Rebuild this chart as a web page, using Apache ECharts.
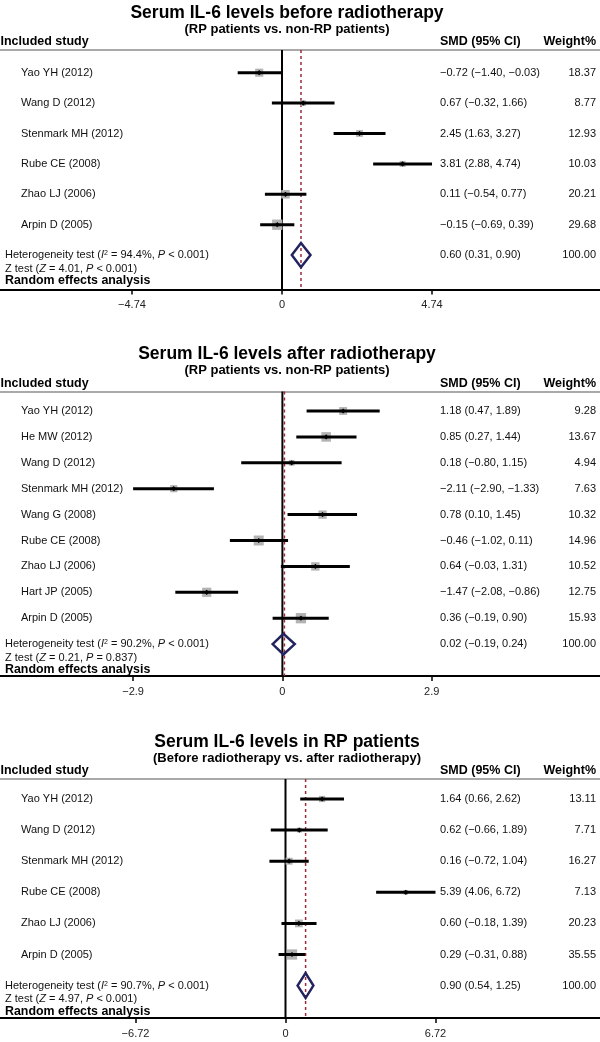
<!DOCTYPE html>
<html><head><meta charset="utf-8">
<script src="https://cdn.jsdelivr.net/npm/echarts@6/dist/echarts.min.js"></script>
<style>html,body{margin:0;padding:0;background:#fff}#c{width:600px;height:1042px}</style>
</head><body><div id="c"></div>
<script>
// ---------------- DATA ----------------
const titles = ['Serum IL-6 levels before radiotherapy', 'Serum IL-6 levels after radiotherapy', 'Serum IL-6 levels in RP patients'];
const subtitles = ['(RP patients vs. non-RP patients)', '(RP patients vs. non-RP patients)', '(Before radiotherapy vs. after radiotherapy)'];

const studies1 = ['Yao YH (2012)', 'Wang D (2012)', 'Stenmark MH (2012)', 'Rube CE (2008)', 'Zhao LJ (2006)', 'Arpin D (2005)'];
const smd1 = [-0.72, 0.67, 2.45, 3.81, 0.11, -0.15];
const lo1 = [-1.40, -0.32, 1.63, 2.88, -0.54, -0.69];
const hi1 = [-0.03, 1.66, 3.27, 4.74, 0.77, 0.39];
const weight1 = [18.37, 8.77, 12.93, 10.03, 20.21, 29.68];
const pooled1 = [0.60, 0.31, 0.90];
const ticks1 = [-4.74, 0, 4.74];

const studies2 = ['Yao YH (2012)', 'He MW (2012)', 'Wang D (2012)', 'Stenmark MH (2012)', 'Wang G (2008)', 'Rube CE (2008)', 'Zhao LJ (2006)', 'Hart JP (2005)', 'Arpin D (2005)'];
const smd2 = [1.18, 0.85, 0.18, -2.11, 0.78, -0.46, 0.64, -1.47, 0.36];
const lo2 = [0.47, 0.27, -0.80, -2.90, 0.10, -1.02, -0.03, -2.08, -0.19];
const hi2 = [1.89, 1.44, 1.15, -1.33, 1.45, 0.11, 1.31, -0.86, 0.90];
const weight2 = [9.28, 13.67, 4.94, 7.63, 10.32, 14.96, 10.52, 12.75, 15.93];
const pooled2 = [0.02, -0.19, 0.24];
const ticks2 = [-2.9, 0, 2.9];

const studies3 = ['Yao YH (2012)', 'Wang D (2012)', 'Stenmark MH (2012)', 'Rube CE (2008)', 'Zhao LJ (2006)', 'Arpin D (2005)'];
const smd3 = [1.64, 0.62, 0.16, 5.39, 0.60, 0.29];
const lo3 = [0.66, -0.66, -0.72, 4.06, -0.18, -0.31];
const hi3 = [2.62, 1.89, 1.04, 6.72, 1.39, 0.88];
const weight3 = [13.11, 7.71, 16.27, 7.13, 20.23, 35.55];
const pooled3 = [0.90, 0.54, 1.25];
const ticks3 = [-6.72, 0, 6.72];

const hetI2 = ['94.4%', '90.2%', '90.7%'];
const hetP = ['< 0.001', '< 0.001', '< 0.001'];
const zStat = ['4.01', '0.21', '4.97'];
const zP = ['< 0.001', '= 0.837', '< 0.001'];

// ---------------- LAYOUT ----------------
const FONT = '"Liberation Sans", Arial, Helvetica, sans-serif';
const W = 600;
const L = [
  {lineY: 50, axisY: 289.5, rowTop: 72.7, step: 30.4, zeroX: 282, ppu: 31.65},
  {lineY: 391.5, axisY: 676, rowTop: 411, step: 25.9, zeroX: 282.4, ppu: 51.48},
  {lineY: 779, axisY: 1018, rowTop: 799, step: 31.1, zeroX: 285.5, ppu: 22.32}
];
const panels = [
  {studies: studies1, smd: smd1, lo: lo1, hi: hi1, w: weight1, pooled: pooled1, ticks: ticks1},
  {studies: studies2, smd: smd2, lo: lo2, hi: hi2, w: weight2, pooled: pooled2, ticks: ticks2},
  {studies: studies3, smd: smd3, lo: lo3, hi: hi3, w: weight3, pooled: pooled3, ticks: ticks3}
];

const MINUS = '\u2212';
function f2(v) { return (v < 0 ? MINUS : '') + Math.abs(v).toFixed(2); }
function tickFmt(v) { if (Math.abs(v) < 1e-9) return '0'; return (v < 0 ? MINUS : '') + String(Math.abs(v)); }

function txt(x, y, text, align, font, extra) {
  return {type: 'text', x: x, y: y, style: Object.assign({
    text: text, fill: '#111', font: font || ('11px ' + FONT),
    align: align, verticalAlign: 'middle', textAlign: align, textVerticalAlign: 'middle'
  }, extra || {})};
}

function makeRender(k) {
  const P = panels[k];
  const wmax = Math.max.apply(null, P.w);
  const n = P.studies.length;
  return function (params, api) {
    const i = api.value(0), est = api.value(1), lo = api.value(2), hi = api.value(3), w = api.value(4);
    const y = api.coord([0, i])[1];
    const xe = api.coord([est, i])[0], xl = api.coord([lo, i])[0], xh = api.coord([hi, i])[0];
    const ch = [];
    if (params.dataIndex < n) {
      const s = 10.3 * Math.sqrt(w / wmax);
      ch.push({type: 'rect', shape: {x: xe - s / 2, y: y - s / 2, width: s, height: s}, style: {fill: '#b3b3b3'}});
      ch.push({type: 'line', shape: {x1: xl, y1: y, x2: xh, y2: y}, style: {stroke: '#000', lineWidth: 3}});
      const d = 2.6;
      ch.push({type: 'polygon', shape: {points: [[xe - d, y], [xe, y - d], [xe + d, y], [xe, y + d]]}, style: {fill: '#000'}});
      ch.push(txt(21, y, P.studies[i], 'left'));
    } else {
      const h = 0.4 * api.size([0, 1])[1];
      ch.push({type: 'polygon', shape: {points: [[xl, y], [xe, y - h], [xh, y], [xe, y + h]]},
        style: {fill: 'none', stroke: '#23235f', lineWidth: 2.5}});
      const rich = {
        it: {fontStyle: 'italic', fontSize: 11, fontFamily: FONT, fill: '#111'},
        sup: {fontSize: 7, fontFamily: FONT, fill: '#111', verticalAlign: 'top'}
      };
      ch.push(txt(5, y, 'Heterogeneity test ({it|I}{sup|2} = ' + hetI2[k] + ', {it|P} ' + hetP[k] + ')', 'left', null, {rich: rich}));
      ch.push(txt(5, y + 13.5, 'Z test ({it|Z} = ' + zStat[k] + ', {it|P} ' + zP[k] + ')', 'left', null, {rich: rich}));
      ch.push(txt(5, y + 25.5, 'Random effects analysis', 'left', 'bold 12.4px ' + FONT, {fill: '#000'}));
    }
    ch.push(txt(440, y, f2(est) + ' (' + f2(lo) + ', ' + f2(hi) + ')', 'left'));
    ch.push(txt(596, y, w.toFixed(2), 'right'));
    return {type: 'group', children: ch};
  };
}

function makeRefRender(k) {
  return function (params, api) {
    const v = api.value(0);
    const cs = params.coordSys;
    const x = api.coord([v, 0])[0];
    if (params.dataIndex === 0) {
      return {type: 'line', shape: {x1: x, y1: cs.y, x2: x, y2: cs.y + cs.height}, style: {stroke: '#000', lineWidth: 2}};
    }
    const dx = (k === 1 ? 1 : 0);
    return {type: 'line', shape: {x1: x + dx, y1: cs.y, x2: x + dx, y2: cs.y + cs.height},
      style: {stroke: '#9a2b3b', lineWidth: 1.5, lineDash: [3, 3]}};
  };
}

const grid = [], xAxis = [], yAxis = [], series = [], graphic = [];
L.forEach(function (l, k) {
  const P = panels[k];
  const min = -l.zeroX / l.ppu, max = (W - l.zeroX) / l.ppu;
  grid.push({left: 0, right: 0, top: l.lineY, height: l.axisY - l.lineY});
  xAxis.push({
    gridIndex: k, type: 'value', min: min, max: max, position: 'bottom',
    axisLine: {show: true, onZero: false, lineStyle: {color: '#000', width: 2}},
    splitLine: {show: false},
    axisTick: {show: true, customValues: P.ticks, length: 5, lineStyle: {color: '#000', width: 1.5}},
    axisLabel: {show: true, customValues: P.ticks, formatter: tickFmt, margin: 10, color: '#222', fontSize: 11, fontFamily: FONT}
  });
  xAxis.push({
    gridIndex: k, type: 'value', min: min, max: max, position: 'top',
    axisLine: {show: true, onZero: false, lineStyle: {color: '#a9a9a9', width: 2}},
    splitLine: {show: false}, axisTick: {show: false}, axisLabel: {show: false}
  });
  yAxis.push({
    gridIndex: k, type: 'value', inverse: true,
    min: (l.lineY - l.rowTop) / l.step, max: (l.axisY - l.rowTop) / l.step, show: false
  });
  const rows = P.studies.map(function (s, i) { return [i, P.smd[i], P.lo[i], P.hi[i], P.w[i]]; });
  rows.push([P.studies.length, P.pooled[0], P.pooled[1], P.pooled[2], 100]);
  series.push({
    type: 'custom', xAxisIndex: 2 * k, yAxisIndex: k, z: 1, silent: true, clip: false,
    renderItem: makeRefRender(k), data: [[0], [P.pooled[0]]], encode: {x: 0}
  });
  series.push({
    type: 'custom', xAxisIndex: 2 * k, yAxisIndex: k, z: 3, silent: true, clip: false,
    renderItem: makeRender(k), data: rows, encode: {x: [1, 2, 3], y: 0}
  });
  graphic.push({type: 'text', x: 287, y: l.lineY - 37, style: {text: titles[k], font: 'bold 17.5px ' + FONT, fill: '#000', textAlign: 'center', textVerticalAlign: 'middle', align: 'center', verticalAlign: 'middle'}});
  graphic.push({type: 'text', x: 287, y: l.lineY - 21, style: {text: subtitles[k], font: 'bold 13px ' + FONT, fill: '#000', textAlign: 'center', textVerticalAlign: 'middle', align: 'center', verticalAlign: 'middle'}});
  graphic.push({type: 'text', x: 0.5, y: l.lineY - 8, style: {text: 'Included study', font: 'bold 12.5px ' + FONT, fill: '#000', textAlign: 'left', textVerticalAlign: 'middle', align: 'left', verticalAlign: 'middle'}});
  graphic.push({type: 'text', x: 440, y: l.lineY - 8, style: {text: 'SMD (95% CI)', font: 'bold 12.5px ' + FONT, fill: '#000', textAlign: 'left', textVerticalAlign: 'middle', align: 'left', verticalAlign: 'middle'}});
  graphic.push({type: 'text', x: 596, y: l.lineY - 8, style: {text: 'Weight%', font: 'bold 12.5px ' + FONT, fill: '#000', textAlign: 'right', textVerticalAlign: 'middle', align: 'right', verticalAlign: 'middle'}});
});

const chart = echarts.init(document.getElementById('c'), null, {renderer: 'canvas'});
chart.setOption({
  animation: false,
  backgroundColor: '#fff',
  grid: grid, xAxis: xAxis, yAxis: yAxis, series: series, graphic: graphic
});
</script>
</body></html>
